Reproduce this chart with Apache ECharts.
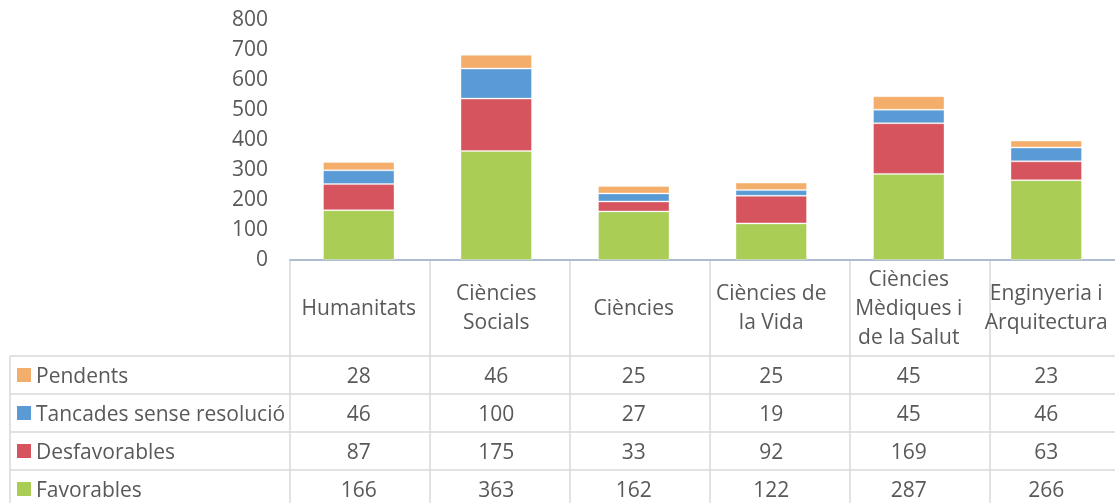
<!DOCTYPE html>
<html>
<head>
<meta charset="utf-8">
<script src="https://cdn.jsdelivr.net/npm/echarts@6/dist/echarts.min.js"></script>
<style>
  html, body { margin: 0; padding: 0; background: #fff; }
  #chart { width: 1115px; height: 503px; }
</style>
</head>
<body>
<div id="chart"></div>
<script>
// data
var categories = ['Humanitats', 'Ciències\nSocials', 'Ciències', 'Ciències de\nla Vida', 'Ciències\nMèdiques i\nde la Salut', 'Enginyeria i\nArquitectura'];
var pendents = [28, 46, 25, 25, 45, 23];
var tancades = [46, 100, 27, 19, 45, 46];
var desfavorables = [87, 175, 33, 92, 169, 63];
var favorables = [166, 363, 162, 122, 287, 266];

var names = ['Pendents', 'Tancades sense resolució', 'Desfavorables', 'Favorables'];
var colors = ['#f4ae6b', '#5b9bd5', '#d5545d', '#aacd56'];
var rows = [pendents, tancades, desfavorables, favorables];

var FONT = 'Open Sans';
var SIZE = 21;
var TXT = '#595959';
var LINE = '#d9d9d9';

var chart = echarts.init(document.getElementById('chart'));

var gridLeft = 290, gridTop = 20, gridH = 240, colW = 140;

var option = {
  animation: false,
  textStyle: { fontFamily: FONT },
  grid: { left: gridLeft, top: gridTop, height: gridH, width: colW * categories.length },
  xAxis: {
    type: 'category',
    data: categories,
    axisTick: { show: false },
    axisLine: { lineStyle: { color: '#aebcd0', width: 2 } },
    axisLabel: {
      color: TXT, fontSize: SIZE, fontFamily: FONT,
      lineHeight: 29, margin: 49, verticalAlign: 'middle',
      interval: 0
    }
  },
  yAxis: {
    type: 'value',
    min: 0, max: 800, interval: 100,
    splitLine: { show: false },
    axisLine: { show: false },
    axisTick: { show: false },
    axisLabel: { color: TXT, fontSize: SIZE, fontFamily: FONT, margin: 22 }
  },
  series: []
};

// stacked from bottom: Favorables, Desfavorables, Tancades, Pendents
for (var i = rows.length - 1; i >= 0; i--) {
  option.series.push({
    name: names[i],
    type: 'bar',
    stack: 'total',
    barWidth: '52%',
    data: rows[i],
    itemStyle: { color: colors[i], borderColor: 'rgba(255,255,255,0.35)', borderWidth: 1 }
  });
}
chart.setOption(option);

// data table under the axis
var g = [];
var axisY = gridTop + gridH;
var tableTop = 356, rowH = 38, legendLeft = 10, bottom = 503;
var xEnd = gridLeft + colW * categories.length;

for (var c = 0; c <= categories.length; c++) {
  var x = gridLeft + colW * c;
  g.push({ type: 'line', shape: { x1: x, y1: axisY + 1, x2: x, y2: bottom + 10 }, style: { stroke: LINE, lineWidth: 1.5 } });
}
g.push({ type: 'line', shape: { x1: legendLeft, y1: tableTop, x2: legendLeft, y2: bottom + 10 }, style: { stroke: LINE, lineWidth: 1.5 } });
for (var r = 0; r <= rows.length; r++) {
  var y = tableTop + rowH * r;
  g.push({ type: 'line', shape: { x1: legendLeft, y1: y, x2: xEnd, y2: y }, style: { stroke: LINE, lineWidth: 1.5 } });
}

for (var r = 0; r < rows.length; r++) {
  var cy = tableTop + rowH * r + rowH / 2;
  g.push({ type: 'rect', shape: { x: 17, y: cy - 7, width: 14, height: 14 }, style: { fill: colors[r] } });
  g.push({ type: 'text', x: 36, y: cy + 2, style: { text: names[r], fill: TXT, font: SIZE + 'px ' + FONT, verticalAlign: 'middle', align: 'left' } });
  for (var c = 0; c < categories.length; c++) {
    var cx = chart.convertToPixel({ xAxisIndex: 0 }, c);
    g.push({ type: 'text', x: cx, y: cy + 2, style: { text: String(rows[r][c]), fill: TXT, font: SIZE + 'px ' + FONT, verticalAlign: 'middle', align: 'center' } });
  }
}

chart.setOption({ graphic: g });
</script>
</body>
</html>
